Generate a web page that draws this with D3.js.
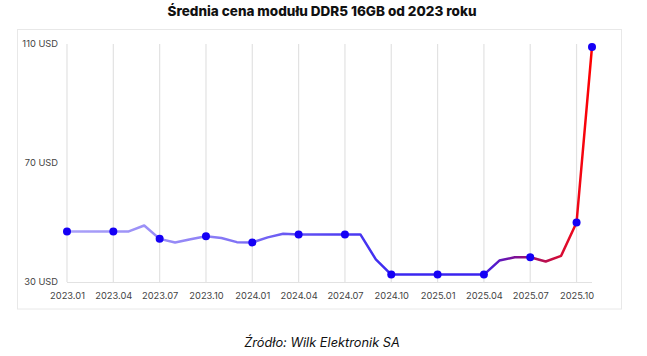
<!DOCTYPE html>
<html><head><meta charset="utf-8">
<script src="https://cdn.jsdelivr.net/npm/d3@7/dist/d3.min.js"></script>
<style>
html,body{margin:0;padding:0;background:#fff;}
svg{display:block;}
</style></head>
<body>
<svg id="chart" width="647" height="356"></svg>
<script>
const titleText = "Średnia cena modułu DDR5 16GB od 2023 roku";
const sourceText = "Źródło: Wilk Elektronik SA";
const months = ["2023.01","2023.02","2023.03","2023.04","2023.05","2023.06","2023.07","2023.08","2023.09","2023.10","2023.11","2023.12",
"2024.01","2024.02","2024.03","2024.04","2024.05","2024.06","2024.07","2024.08","2024.09","2024.10","2024.11","2024.12",
"2025.01","2025.02","2025.03","2025.04","2025.05","2025.06","2025.07","2025.08","2025.09","2025.10","2025.11"];
const prices = [47,47,47,47,47,49,44.5,43.3,44.4,45.4,44.8,43.4,
43.3,45,46.2,46,46,46,46,46,37.6,32.5,32.5,32.5,
32.5,32.5,32.5,32.5,37.2,38.3,38.3,36.9,38.8,50,109];
const tickLabels = ["2023.01","2023.04","2023.07","2023.10","2024.01","2024.04","2024.07","2024.10","2025.01","2025.04","2025.07","2025.10"];
const markerMonths = ["2023.01","2023.04","2023.07","2023.10","2024.01","2024.04","2024.07","2024.10","2025.01","2025.04","2025.07","2025.10","2025.11"];
const yTicks = [30,70,110];

const svg = d3.select("#chart");
const x = d3.scalePoint().domain(months).range([67,592]);
const y = d3.scaleLinear().domain([30,110]).range([282,44]);

// frame
svg.append("rect").attr("x",17.5).attr("y",29.5).attr("width",604).attr("height",279.5)
  .attr("fill","none").attr("stroke","#e8e8e8").attr("stroke-width",1);

// title
svg.append("text").attr("x",322).attr("y",16).attr("text-anchor","middle")
  .attr("font-family","Inter, 'Noto Sans', sans-serif").attr("font-weight",800)
  .attr("font-size",13.5).attr("fill","#111").text(titleText);

// vertical gridlines
svg.append("g").selectAll("line").data(tickLabels).join("line")
  .attr("x1",d=>x(d)).attr("x2",d=>x(d)).attr("y1",y(110)).attr("y2",y(30))
  .attr("stroke","#e2e2e2").attr("stroke-width",1.2);

// baseline
svg.append("line").attr("x1",x(months[0])).attr("x2",x(months[months.length-1]))
  .attr("y1",y(30)+0.5).attr("y2",y(30)+0.5).attr("stroke","#e2e2e2").attr("stroke-width",1.2);

// x axis
const xAxis = d3.axisBottom(x).tickValues(tickLabels).tickSize(0).tickPadding(10);
const gx = svg.append("g").attr("transform",`translate(0,${y(30)})`).call(xAxis);
gx.select(".domain").remove();
gx.selectAll("text").attr("font-family","Inter, 'Noto Sans', sans-serif").attr("font-size",9.3).attr("fill","#444");

// y axis
const yAxis = d3.axisLeft(y).tickValues(yTicks).tickSize(0).tickPadding(9).tickFormat(d=>d+" USD");
const gy = svg.append("g").attr("transform",`translate(${x(months[0])},0)`).call(yAxis);
gy.select(".domain").remove();
gy.selectAll("text").attr("font-family","Inter, 'Noto Sans', sans-serif").attr("font-size",9.3).attr("fill","#444");

// gradient
const defs = svg.append("defs");
const grad = defs.append("linearGradient").attr("id","lineGrad").attr("gradientUnits","userSpaceOnUse")
  .attr("x1",x(months[0])).attr("x2",x(months[months.length-1])).attr("y1",0).attr("y2",0);
[[0,"#aaa1f8"],[0.25,"#9184f6"],[0.5,"#5544f2"],[0.62,"#3b28f0"],[0.79,"#3a22ee"],[0.85,"#7a109a"],[0.9,"#b0105a"],[0.96,"#e80a22"],[1,"#ff0000"]]
  .forEach(s=>grad.append("stop").attr("offset",s[0]).attr("stop-color",s[1]));

const data = months.map((m,i)=>({m,v:prices[i]}));
const line = d3.line().x(d=>x(d.m)).y(d=>y(d.v));
svg.append("path").datum(data).attr("d",line).attr("fill","none")
  .attr("stroke","url(#lineGrad)").attr("stroke-width",2.5).attr("stroke-linejoin","round");

// markers
svg.append("g").selectAll("circle").data(data.filter(d=>markerMonths.includes(d.m))).join("circle")
  .attr("cx",d=>x(d.m)).attr("cy",d=>y(d.v)).attr("r",4).attr("fill","#1500f5");

// source
svg.append("text").attr("x",322).attr("y",347).attr("text-anchor","middle")
  .attr("font-family","Inter, 'Noto Sans', sans-serif").attr("font-style","italic")
  .attr("font-size",12.8).attr("fill","#111").text(sourceText);
</script>
</body></html>
